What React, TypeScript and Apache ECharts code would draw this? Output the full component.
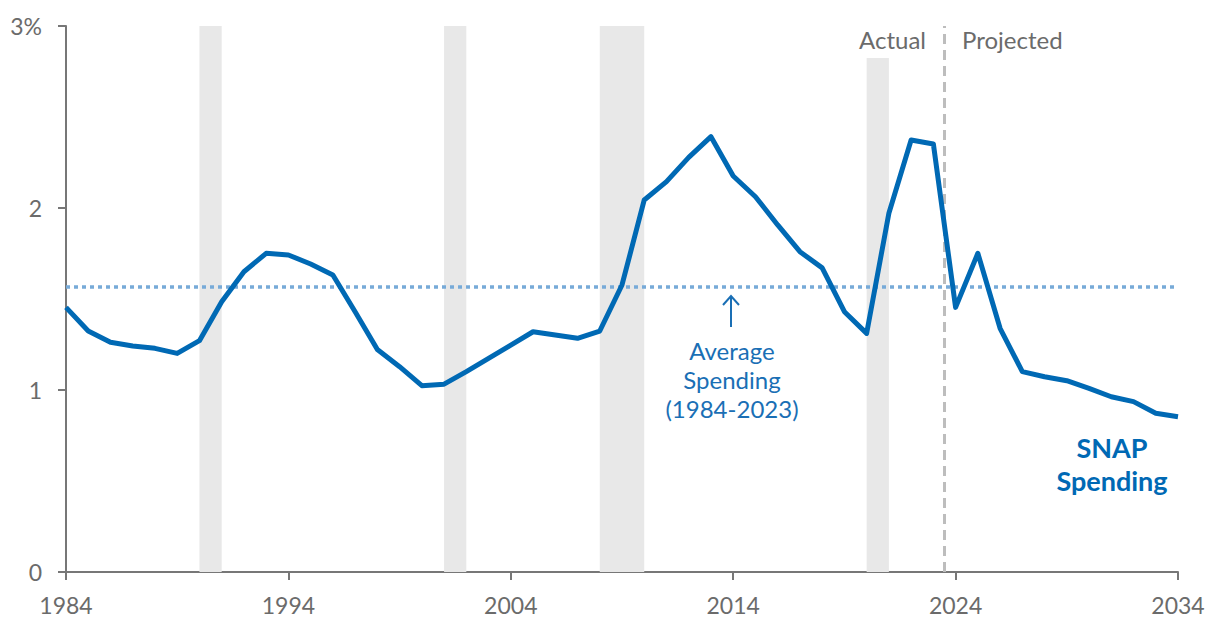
import React, { useEffect, useRef } from "react";
import * as echarts from "echarts";

const years: number[] = [];
for (let y = 1984; y <= 2034; y++) years.push(y);

const spending = [
  1.454, 1.324, 1.262, 1.242, 1.229, 1.201, 1.271, 1.485, 1.65, 1.751,
  1.742, 1.692, 1.632, 1.43, 1.223, 1.128, 1.024, 1.032, 1.101, 1.174,
  1.247, 1.32, 1.302, 1.284, 1.324, 1.577, 2.044, 2.145, 2.278, 2.392,
  2.176, 2.062, 1.907, 1.76, 1.671, 1.43, 1.311, 1.971, 2.374, 2.352,
  1.454, 1.751, 1.339, 1.101, 1.073, 1.051, 1.009, 0.963, 0.936, 0.872,
  0.853,
];

const averageSpending = 1.571;
const recessions: [number, number, number][] = [
  [1990, 1991, 3],
  [2001, 2002, 3],
  [2008, 2010, 3],
  [2020, 2021, 2.824],
];
const projectionStart = 2023.5;
const xTicks = [1984, 1994, 2004, 2014, 2024, 2034];

const FONT = "Lato, 'Noto Sans', sans-serif";

export default function App() {
  const ref = useRef<HTMLDivElement>(null);
  useEffect(() => {
    if (!ref.current) return;
    const chart = echarts.init(ref.current, undefined, { renderer: "svg" });
    const lineData = years.map((y, i) => [y, spending[i]]);
    chart.setOption({
      animation: false,
      backgroundColor: "#ffffff",
      grid: { left: 66, right: 42, top: 26, bottom: 62, containLabel: false },
      xAxis: {
        type: "value",
        min: 1984,
        max: 2034,
        axisLine: { show: true, lineStyle: { color: "#777777", width: 2 } },
        axisTick: {
          show: true,
          length: 8,
          customValues: xTicks,
          lineStyle: { color: "#777777", width: 2 },
        },
        axisLabel: {
          customValues: xTicks,
          color: "#6b6b6b",
          fontFamily: FONT,
          fontSize: 23,
          margin: 21,
          formatter: (v: number) => String(v),
        },
        splitLine: { show: false },
      },
      yAxis: {
        type: "value",
        min: 0,
        max: 3,
        interval: 1,
        axisLine: { show: true, lineStyle: { color: "#777777", width: 2 } },
        axisTick: {
          show: true,
          length: 8,
          lineStyle: { color: "#777777", width: 2 },
        },
        axisLabel: {
          color: "#6b6b6b",
          fontFamily: FONT,
          fontSize: 23,
          margin: 24,
          formatter: (v: number) => (v === 3 ? "3%" : String(v)),
        },
        splitLine: { show: false },
      },
      series: [
        {
          type: "line",
          data: [],
          z: 1,
          silent: true,
          markArea: {
            silent: true,
            itemStyle: { color: "#e8e8e8" },
            data: recessions.map(([a, b, top]) => [
              { xAxis: a, yAxis: 0 },
              { xAxis: b, yAxis: top },
            ]),
          },
        },
        {
          type: "line",
          data: [],
          z: 2,
          silent: true,
          markLine: {
            silent: true,
            symbol: "none",
            label: { show: false },
            data: [
              {
                yAxis: averageSpending,
                lineStyle: { color: "#77aad8", width: 3.5, type: [4, 4] },
              },
              {
                xAxis: projectionStart,
                lineStyle: { color: "#bdbdbd", width: 3, type: [10, 6] },
              },
            ],
          },
        },
        {
          type: "line",
          data: lineData,
          z: 5,
          showSymbol: false,
          symbol: "none",
          lineStyle: { color: "#0069b4", width: 5, join: "round" },
          silent: true,
        },
      ],
      graphic: [
        {
          type: "line",
          shape: { x1: 731, y1: 327, x2: 731, y2: 296 },
          style: { stroke: "#1a6fb5", lineWidth: 2 },
        },
        {
          type: "polyline",
          shape: { points: [[723, 305], [731, 296], [739, 305]] },
          style: { stroke: "#1a6fb5", lineWidth: 2, fill: null },
        },
        {
          type: "text",
          x: 732,
          y: 336,
          style: {
            text: "Average\nSpending\n(1984-2023)",
            fill: "#1a6fb5",
            font: `24px ${FONT}`,
            align: "center",
            verticalAlign: "top",
            lineHeight: 29,
          },
        },
        {
          type: "text",
          x: 926,
          y: 39,
          style: {
            text: "Actual",
            fill: "#6b6b6b",
            font: `24px ${FONT}`,
            align: "right",
            verticalAlign: "middle",
          },
        },
        {
          type: "text",
          x: 962,
          y: 39,
          style: {
            text: "Projected",
            fill: "#6b6b6b",
            font: `24px ${FONT}`,
            align: "left",
            verticalAlign: "middle",
          },
        },
        {
          type: "text",
          x: 1112,
          y: 431,
          style: {
            text: "SNAP\nSpending",
            fill: "#0069b4",
            font: `bold 27px ${FONT}`,
            align: "center",
            verticalAlign: "top",
            lineHeight: 33,
          },
        },
      ],
    });
    return () => chart.dispose();
  }, []);
  return (
    <div
      ref={ref}
      style={{ position: "fixed", left: 0, top: 0, width: 1220, height: 634 }}
    />
  );
}
